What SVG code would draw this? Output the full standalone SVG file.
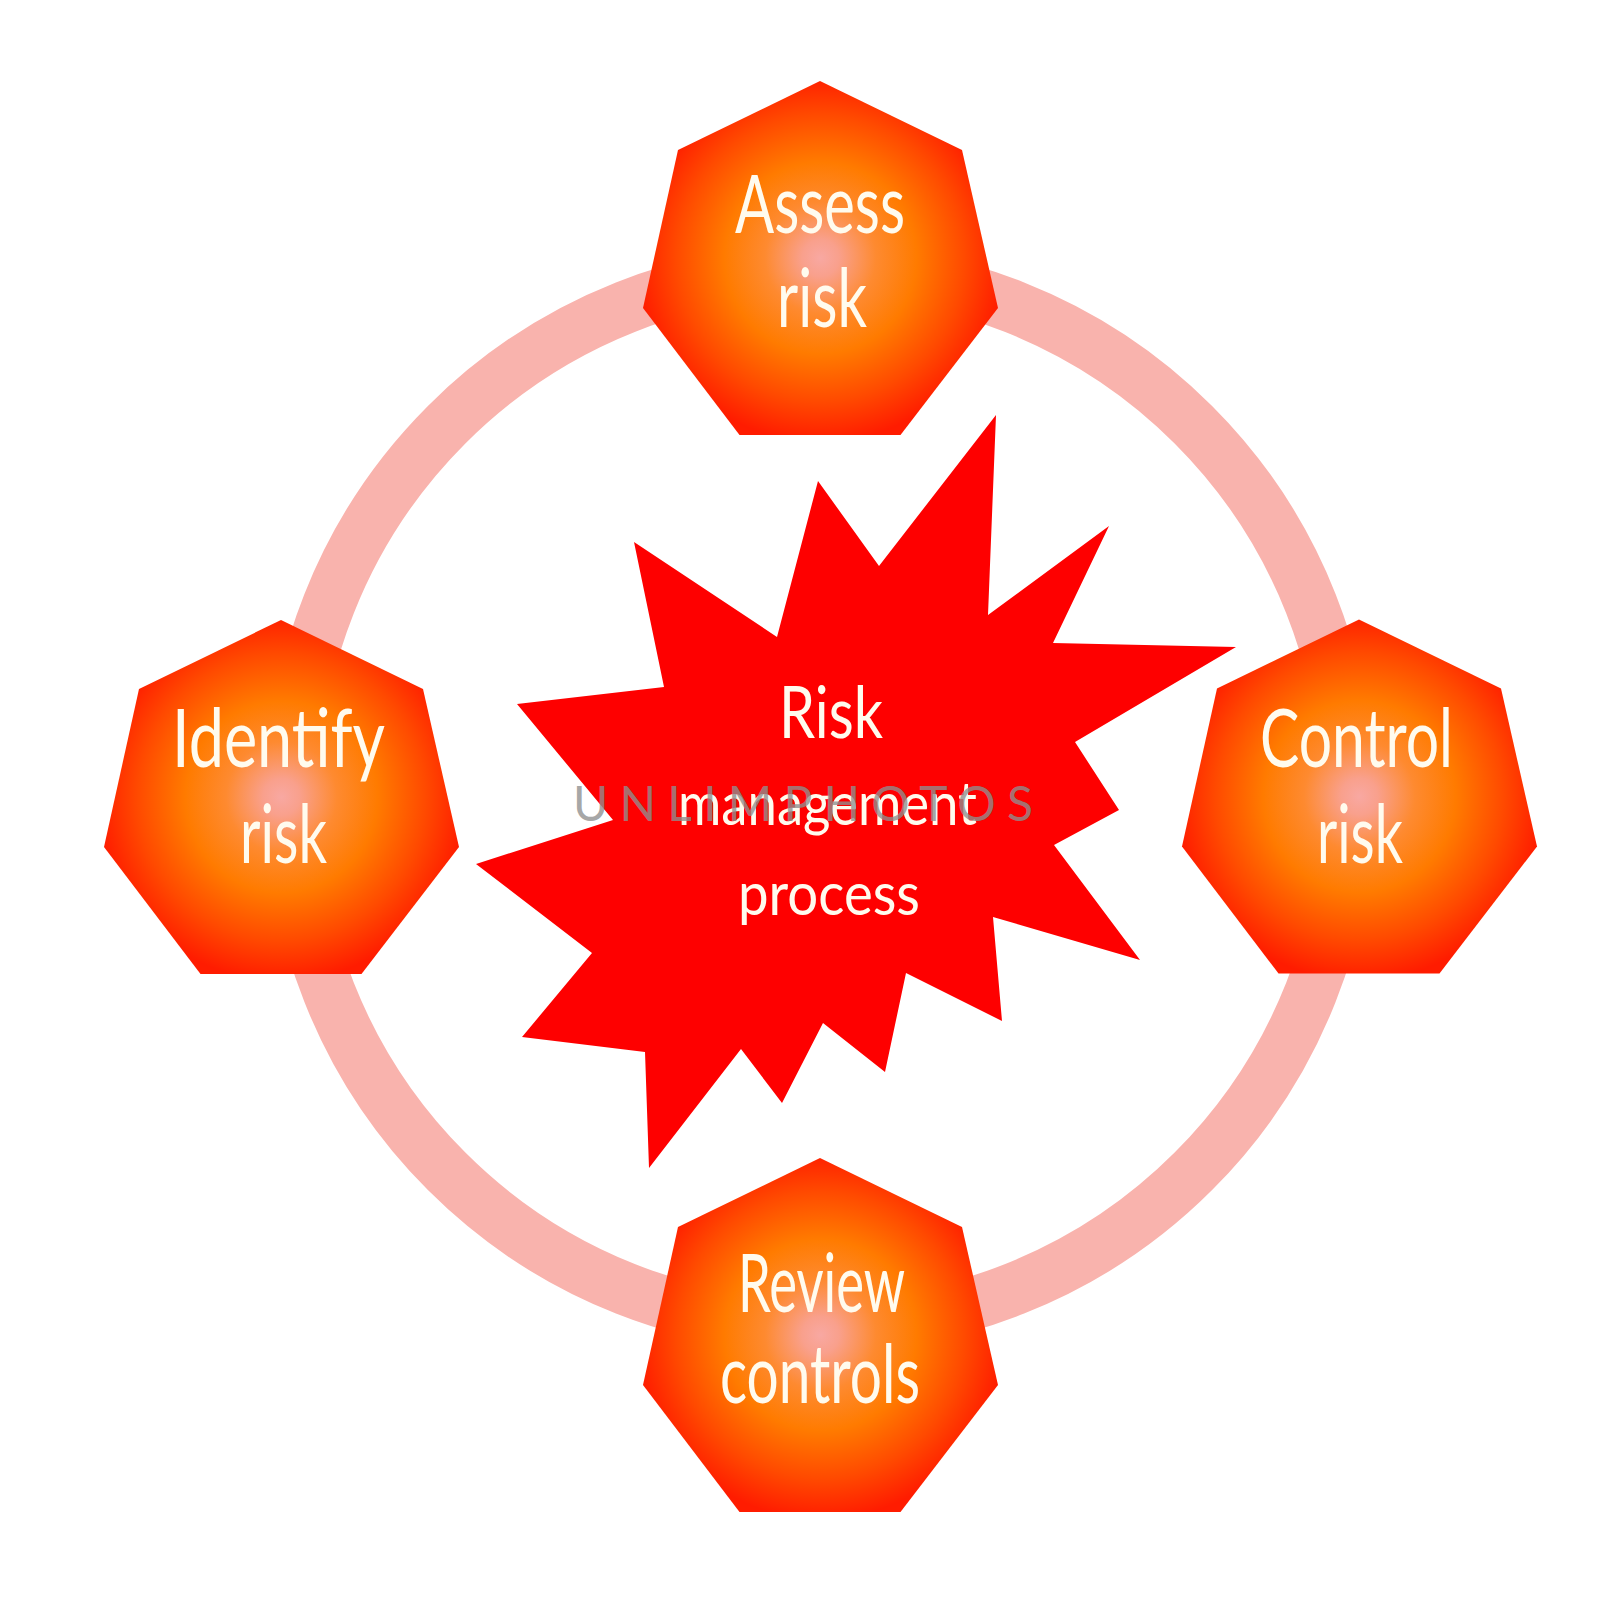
<svg xmlns="http://www.w3.org/2000/svg" width="1600" height="1600" viewBox="0 0 1600 1600">
  <style>
    .hept { fill: url(#heptGrad); }
    .lbl { font-family: Lato, "Open Sans", "DejaVu Sans", sans-serif; font-size: 82px; fill: #fffbee; }
    .clbl { font-family: Lato, "Open Sans", "DejaVu Sans", sans-serif; fill: #fffbee; }
    .wm { font-family: Lato, "Open Sans", "DejaVu Sans", sans-serif; font-weight: 400; font-size: 48px; fill: #8f8f8f; fill-opacity: 0.8; }
  </style>
  <defs>
    <radialGradient id="heptGrad" cx="50%" cy="50%" r="52%">
      <stop offset="0" stop-color="#f8a8a2"/>
      <stop offset="0.1" stop-color="#f9a08c"/>
      <stop offset="0.3" stop-color="#fe8a30"/>
      <stop offset="0.52" stop-color="#ff7b00"/>
      <stop offset="0.78" stop-color="#ff4a00"/>
      <stop offset="1" stop-color="#ff1c00"/>
    </radialGradient>
    <polygon id="heptShape" points="0,0 142,69 178,227 80.5,354 -80.5,354 -177,227 -142,69"/>
  </defs>
  <rect width="1600" height="1600" fill="#ffffff"/>

  <g id="connectors">
    <circle cx="820" cy="798" r="528" fill="none" stroke="#f9b3ad" stroke-width="53"/>
  </g>

  <g id="center-burst">
    <polygon fill="#fe0000" points="996,415 988,615 1109,526 1053,643 1236,647 1075,742 1119,810 1054,845 1140,960 993,917 1002,1021 906,973 885,1072 823,1023 782,1103 741,1049 649,1168 645,1052 522,1037 592,953 476,864 613,820 517,704 664,687 634,542 777,637 818,481 879,566"/>
    <text class="clbl" x="779" y="738" font-size="72" textLength="104" lengthAdjust="spacingAndGlyphs">Risk</text>
    <text class="clbl" x="678" y="825" font-size="60" textLength="299" lengthAdjust="spacingAndGlyphs">management</text>
    <text class="clbl" x="738" y="915" font-size="60" textLength="182" lengthAdjust="spacingAndGlyphs">process</text>
  </g>

  <g id="node-assess">
    <use href="#heptShape" class="hept" transform="translate(820,81)"/>
    <text class="lbl" x="735" y="233" textLength="170" lengthAdjust="spacingAndGlyphs">Assess</text>
    <text class="lbl" x="777" y="327" textLength="90" lengthAdjust="spacingAndGlyphs">risk</text>
  </g>

  <g id="node-identify">
    <use href="#heptShape" class="hept" transform="translate(281,620)"/>
    <text class="lbl" x="172" y="767" textLength="213" lengthAdjust="spacingAndGlyphs">Identify</text>
    <text class="lbl" x="240" y="863" textLength="87" lengthAdjust="spacingAndGlyphs">risk</text>
  </g>

  <g id="node-control">
    <use href="#heptShape" class="hept" transform="translate(1359,619.5)"/>
    <text class="lbl" x="1260" y="767" textLength="193" lengthAdjust="spacingAndGlyphs">Control</text>
    <text class="lbl" x="1317" y="863" textLength="86" lengthAdjust="spacingAndGlyphs">risk</text>
  </g>

  <g id="node-review">
    <use href="#heptShape" class="hept" transform="translate(820,1158)"/>
    <text class="lbl" x="738" y="1312" textLength="167" lengthAdjust="spacingAndGlyphs">Review</text>
    <text class="lbl" x="720" y="1403" textLength="200" lengthAdjust="spacingAndGlyphs">controls</text>
  </g>

  <text class="wm" x="573" y="821" textLength="460" lengthAdjust="spacing">UNLIMPHOTOS</text>
</svg>
